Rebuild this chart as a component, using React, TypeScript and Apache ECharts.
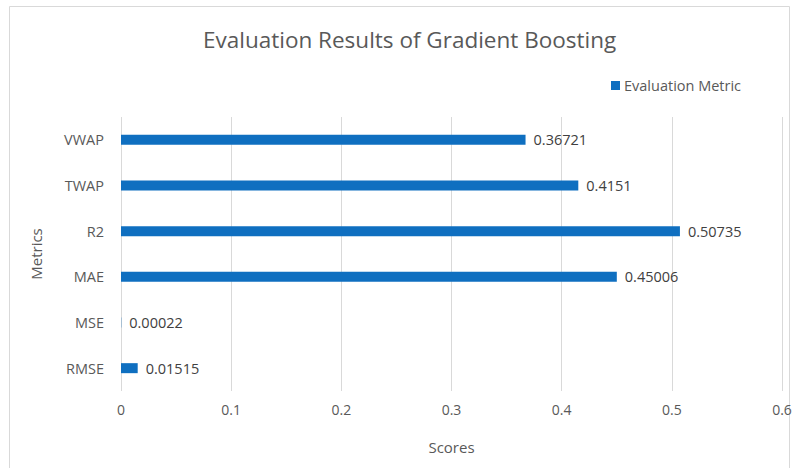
import React, { useEffect, useRef } from "react";
import * as echarts from "echarts";

const categories = ["RMSE", "MSE", "MAE", "R2", "TWAP", "VWAP"];
const values = [0.01515, 0.00022, 0.45006, 0.50735, 0.4151, 0.36721];
const seriesName = "Evaluation Metric";
const xTicks = [0, 0.1, 0.2, 0.3, 0.4, 0.5, 0.6];

const FONT = "'Open Sans', 'Noto Sans', sans-serif";

export default function App() {
  const ref = useRef<HTMLDivElement>(null);
  useEffect(() => {
    document.body.style.margin = "0";
    const chart = echarts.init(ref.current!, null, { renderer: "svg" });
    chart.setOption({
      animation: false,
      backgroundColor: "#ffffff",
      textStyle: { fontFamily: FONT },
      title: {
        text: "Evaluation Results of Gradient Boosting",
        left: 198,
        top: 23,
        textStyle: { fontFamily: FONT, fontSize: 22.5, fontWeight: "normal", color: "#595959" },
      },
      legend: {
        data: [seriesName],
        left: 606,
        top: 73,
        itemWidth: 9,
        itemHeight: 9,
        itemGap: 4,
        icon: "rect",
        textStyle: { fontFamily: FONT, fontSize: 14.5, color: "#595959", padding: [0, 0, 0, -1] },
      },
      grid: { left: 121, top: 117, width: 661, height: 274, containLabel: false },
      xAxis: {
        type: "value",
        min: xTicks[0],
        max: xTicks[xTicks.length - 1],
        interval: 0.1,
        name: "Scores",
        nameLocation: "middle",
        nameGap: 48,
        nameTextStyle: { fontFamily: FONT, fontSize: 15, color: "#595959" },
        axisLine: { show: false },
        axisTick: { show: false },
        axisLabel: {
          fontFamily: FONT,
          fontSize: 14,
          color: "#595959",
          margin: 11,
          formatter: (v: number) => String(Math.round(v * 10) / 10),
        },
        splitLine: { show: true, lineStyle: { color: "#d9d9d9", width: 1 } },
      },
      yAxis: {
        type: "category",
        data: categories,
        name: "Metrics",
        nameLocation: "middle",
        nameGap: 78,
        nameRotate: 90,
        nameTextStyle: { fontFamily: FONT, fontSize: 15, color: "#595959" },
        axisLine: { show: false },
        axisTick: { show: false },
        axisLabel: { fontFamily: FONT, fontSize: 14.5, color: "#595959", margin: 17 },
      },
      series: [
        {
          name: seriesName,
          type: "bar",
          data: values,
          barWidth: 10,
          itemStyle: { color: "#0f6fc0" },
          label: {
            show: true,
            position: "right",
            distance: 8,
            fontFamily: FONT,
            fontSize: 14.5,
            color: "#404040",
            formatter: (p: any) => String(p.value),
          },
        },
      ],
      graphic: [
        {
          type: "rect",
          shape: { x: 9.5, y: 6.5, width: 780, height: 480 },
          style: { fill: "none", stroke: "#d9d9d9", lineWidth: 1 },
          silent: true,
        },
      ],
    });
    return () => chart.dispose();
  }, []);
  return <div ref={ref} style={{ width: 798, height: 468 }} />;
}
